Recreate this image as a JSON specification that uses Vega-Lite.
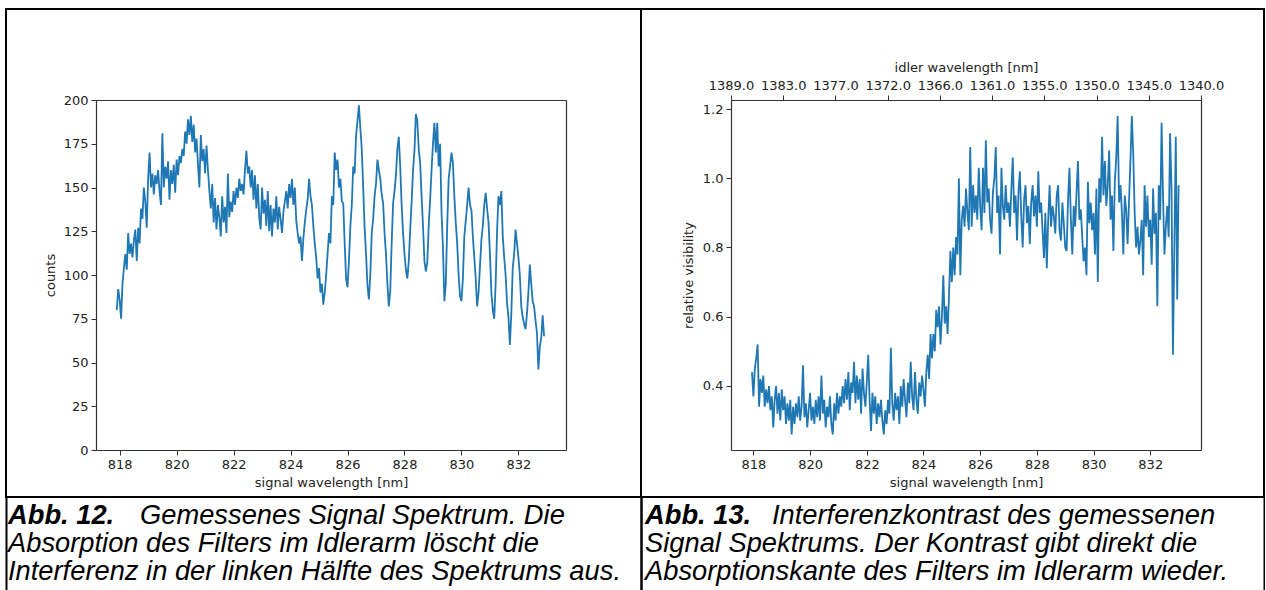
{
  "$schema": "https://vega.github.io/schema/vega-lite/v6.json",
  "background": "white",
  "padding": {"left": 5, "top": 8, "right": 0, "bottom": 0},
  "bounds": "flush",
  "columns": 2,
  "spacing": 0,
  "config": {
    "view": {"stroke": null},
    "concat": {"spacing": 0},
    "axis": {
      "domainColor": "#333", "domainWidth": 1.2, "tickColor": "#333", "tickWidth": 1, "tickSize": 5,
      "labelFont": "DejaVu Sans", "labelFontSize": 13, "labelColor": "#222",
      "titleFont": "DejaVu Sans", "titleFontSize": 13, "titleFontWeight": "normal", "titleColor": "#222",
      "labelPadding": 3, "grid": false, "labelFlush": false, "labelOverlap": false
    }
  },
  "datasets": {
    "sig": [
      {"wl":817.9,"c":80},{"wl":817.95,"c":92},{"wl":818,"c":86},{"wl":818.05,"c":75},{"wl":818.1,"c":95},{"wl":818.15,"c":104},{"wl":818.2,"c":112},{"wl":818.25,"c":103},{"wl":818.3,"c":124},{"wl":818.35,"c":112},{"wl":818.4,"c":118},{"wl":818.45,"c":110},{"wl":818.5,"c":120},{"wl":818.55,"c":126},{"wl":818.6,"c":108},{"wl":818.65,"c":127},{"wl":818.7,"c":118},{"wl":818.75,"c":138},{"wl":818.8,"c":132},{"wl":818.85,"c":150},{"wl":818.9,"c":142},{"wl":818.95,"c":127},{"wl":819,"c":155},
      {"wl":819.05,"c":170},{"wl":819.1,"c":150},{"wl":819.15,"c":158},{"wl":819.2,"c":146},{"wl":819.25,"c":157},{"wl":819.3,"c":152},{"wl":819.35,"c":160},{"wl":819.4,"c":148},{"wl":819.45,"c":140},{"wl":819.5,"c":181},{"wl":819.55,"c":150},{"wl":819.6,"c":162},{"wl":819.65,"c":155},{"wl":819.7,"c":165},{"wl":819.75,"c":143},{"wl":819.8,"c":160},{"wl":819.85,"c":152},{"wl":819.9,"c":163},{"wl":819.95,"c":147},{"wl":820,"c":166},{"wl":820.05,"c":157},{"wl":820.1,"c":168},
      {"wl":820.15,"c":164},{"wl":820.2,"c":172},{"wl":820.25,"c":168},{"wl":820.3,"c":182},{"wl":820.35,"c":175},{"wl":820.4,"c":189},{"wl":820.45,"c":180},{"wl":820.5,"c":191},{"wl":820.55,"c":176},{"wl":820.6,"c":186},{"wl":820.65,"c":170},{"wl":820.7,"c":178},{"wl":820.75,"c":163},{"wl":820.8,"c":150},{"wl":820.85,"c":180},{"wl":820.9,"c":165},{"wl":820.95,"c":172},{"wl":821,"c":158},{"wl":821.05,"c":174},{"wl":821.1,"c":160},
      {"wl":821.15,"c":148},{"wl":821.2,"c":138},{"wl":821.25,"c":152},{"wl":821.3,"c":130},{"wl":821.35,"c":144},{"wl":821.4,"c":126},{"wl":821.45,"c":140},{"wl":821.5,"c":133},{"wl":821.55,"c":122},{"wl":821.6,"c":145},{"wl":821.65,"c":130},{"wl":821.7,"c":139},{"wl":821.75,"c":124},{"wl":821.8,"c":158},{"wl":821.85,"c":133},{"wl":821.9,"c":142},{"wl":821.95,"c":136},{"wl":822,"c":148},{"wl":822.05,"c":140},{"wl":822.1,"c":150},{"wl":822.15,"c":144},{"wl":822.2,"c":155},{"wl":822.25,"c":148},{"wl":822.3,"c":152},{"wl":822.35,"c":146},
      {"wl":822.4,"c":160},{"wl":822.45,"c":171},{"wl":822.5,"c":158},{"wl":822.55,"c":162},{"wl":822.6,"c":150},{"wl":822.65,"c":160},{"wl":822.7,"c":143},{"wl":822.75,"c":157},{"wl":822.8,"c":138},{"wl":822.85,"c":152},{"wl":822.9,"c":133},{"wl":822.95,"c":126},{"wl":823,"c":150},{"wl":823.05,"c":135},{"wl":823.1,"c":143},{"wl":823.15,"c":128},{"wl":823.2,"c":148},{"wl":823.25,"c":125},{"wl":823.3,"c":140},{"wl":823.35,"c":122},{"wl":823.4,"c":138},{"wl":823.45,"c":130},{"wl":823.5,"c":145},{"wl":823.55,"c":126},{"wl":823.6,"c":139},{"wl":823.65,"c":132},{"wl":823.7,"c":124},{"wl":823.75,"c":136},
      {"wl":823.8,"c":142},{"wl":823.85,"c":148},{"wl":823.9,"c":138},{"wl":823.95,"c":152},{"wl":824,"c":144},{"wl":824.05,"c":155},{"wl":824.1,"c":140},{"wl":824.15,"c":150},{"wl":824.2,"c":131},{"wl":824.25,"c":124},{"wl":824.3,"c":118},{"wl":824.35,"c":122},{"wl":824.4,"c":108},{"wl":824.45,"c":121},{"wl":824.5,"c":130},{"wl":824.55,"c":137},{"wl":824.6,"c":143},{"wl":824.65,"c":155},{"wl":824.7,"c":145},{"wl":824.75,"c":140},{"wl":824.8,"c":128},{"wl":824.85,"c":118},{"wl":824.9,"c":110},{"wl":824.95,"c":98},{"wl":825,"c":104},{"wl":825.05,"c":90},{"wl":825.1,"c":95},{"wl":825.15,"c":83},{"wl":825.2,"c":90},{"wl":825.25,"c":100},{"wl":825.3,"c":112},{"wl":825.35,"c":124},{"wl":825.4,"c":118},
      {"wl":825.45,"c":145},{"wl":825.5,"c":140},{"wl":825.55,"c":170},{"wl":825.6,"c":160},{"wl":825.65,"c":166},{"wl":825.7,"c":150},{"wl":825.75,"c":155},{"wl":825.8,"c":142},{"wl":825.85,"c":141},{"wl":825.9,"c":118},{"wl":825.95,"c":98},{"wl":826,"c":93},{"wl":826.05,"c":108},{"wl":826.1,"c":128},{"wl":826.15,"c":140},{"wl":826.2,"c":162},{"wl":826.25,"c":158},{"wl":826.3,"c":180},{"wl":826.35,"c":188},{"wl":826.4,"c":197},{"wl":826.45,"c":184},{"wl":826.5,"c":172},{"wl":826.55,"c":150},{"wl":826.6,"c":127},{"wl":826.65,"c":112},{"wl":826.7,"c":94},{"wl":826.75,"c":86},{"wl":826.8,"c":100},{"wl":826.85,"c":124},{"wl":826.9,"c":132},{"wl":826.95,"c":145},
      {"wl":827,"c":152},{"wl":827.05,"c":166},{"wl":827.1,"c":160},{"wl":827.15,"c":155},{"wl":827.2,"c":146},{"wl":827.25,"c":141},{"wl":827.3,"c":124},{"wl":827.35,"c":112},{"wl":827.4,"c":95},{"wl":827.45,"c":82},{"wl":827.5,"c":91},{"wl":827.55,"c":118},{"wl":827.6,"c":141},{"wl":827.65,"c":148},{"wl":827.7,"c":157},{"wl":827.75,"c":172},{"wl":827.8,"c":179},{"wl":827.85,"c":162},{"wl":827.9,"c":140},{"wl":827.95,"c":124},
      {"wl":828,"c":112},{"wl":828.05,"c":103},{"wl":828.1,"c":98},{"wl":828.15,"c":108},{"wl":828.2,"c":126},{"wl":828.25,"c":141},{"wl":828.3,"c":160},{"wl":828.35,"c":171},{"wl":828.4,"c":192},{"wl":828.45,"c":188},{"wl":828.5,"c":172},{"wl":828.55,"c":164},{"wl":828.6,"c":145},{"wl":828.65,"c":128},{"wl":828.7,"c":108},{"wl":828.75,"c":102},{"wl":828.8,"c":107},{"wl":828.85,"c":128},{"wl":828.9,"c":143},{"wl":828.95,"c":160},
      {"wl":829,"c":175},{"wl":829.05,"c":187},{"wl":829.1,"c":170},{"wl":829.15,"c":187},{"wl":829.2,"c":162},{"wl":829.25,"c":175},{"wl":829.3,"c":136},{"wl":829.35,"c":116},{"wl":829.4,"c":85},{"wl":829.45,"c":95},{"wl":829.5,"c":128},{"wl":829.55,"c":155},{"wl":829.6,"c":162},{"wl":829.65,"c":170},{"wl":829.7,"c":164},{"wl":829.75,"c":145},{"wl":829.8,"c":130},{"wl":829.85,"c":118},{"wl":829.9,"c":100},{"wl":829.95,"c":88},
      {"wl":830,"c":85},{"wl":830.05,"c":98},{"wl":830.1,"c":122},{"wl":830.15,"c":131},{"wl":830.2,"c":140},{"wl":830.25,"c":150},{"wl":830.3,"c":140},{"wl":830.35,"c":137},{"wl":830.4,"c":122},{"wl":830.45,"c":110},{"wl":830.5,"c":98},{"wl":830.55,"c":82},{"wl":830.6,"c":90},{"wl":830.65,"c":105},{"wl":830.7,"c":120},{"wl":830.75,"c":128},{"wl":830.8,"c":140},{"wl":830.85,"c":147},{"wl":830.9,"c":138},{"wl":830.95,"c":130},
      {"wl":831,"c":112},{"wl":831.05,"c":90},{"wl":831.1,"c":80},{"wl":831.15,"c":75},{"wl":831.2,"c":95},{"wl":831.25,"c":125},{"wl":831.3,"c":145},{"wl":831.35,"c":140},{"wl":831.4,"c":148},{"wl":831.45,"c":122},{"wl":831.5,"c":110},{"wl":831.55,"c":100},{"wl":831.6,"c":84},{"wl":831.65,"c":76},{"wl":831.7,"c":60},{"wl":831.75,"c":78},{"wl":831.8,"c":104},{"wl":831.85,"c":112},{"wl":831.9,"c":126},{"wl":831.95,"c":118},
      {"wl":832,"c":110},{"wl":832.05,"c":100},{"wl":832.1,"c":82},{"wl":832.15,"c":76},{"wl":832.2,"c":72},{"wl":832.25,"c":69},{"wl":832.3,"c":78},{"wl":832.35,"c":90},{"wl":832.4,"c":106},{"wl":832.45,"c":95},{"wl":832.5,"c":85},{"wl":832.55,"c":82},{"wl":832.6,"c":74},{"wl":832.65,"c":67},{"wl":832.7,"c":46},{"wl":832.75,"c":59},{"wl":832.8,"c":64},{"wl":832.85,"c":77},{"wl":832.9,"c":65}
    ],
    "vis": [
      {"wl":817.95,"v":0.44},{"wl":818,"v":0.37},{"wl":818.05,"v":0.45},{"wl":818.1,"v":0.48},{"wl":818.15,"v":0.52},{"wl":818.2,"v":0.34},{"wl":818.25,"v":0.42},{"wl":818.3,"v":0.38},{"wl":818.35,"v":0.43},{"wl":818.4,"v":0.34},{"wl":818.45,"v":0.39},{"wl":818.5,"v":0.35},{"wl":818.55,"v":0.4},{"wl":818.6,"v":0.33},{"wl":818.65,"v":0.37},{"wl":818.7,"v":0.28},{"wl":818.75,"v":0.36},{"wl":818.8,"v":0.4},{"wl":818.85,"v":0.32},{"wl":818.9,"v":0.38},{"wl":818.95,"v":0.3},
      {"wl":819,"v":0.39},{"wl":819.05,"v":0.33},{"wl":819.1,"v":0.37},{"wl":819.15,"v":0.29},{"wl":819.2,"v":0.35},{"wl":819.25,"v":0.3},{"wl":819.3,"v":0.36},{"wl":819.35,"v":0.26},{"wl":819.4,"v":0.34},{"wl":819.45,"v":0.29},{"wl":819.5,"v":0.35},{"wl":819.55,"v":0.31},{"wl":819.6,"v":0.37},{"wl":819.65,"v":0.3},{"wl":819.7,"v":0.34},{"wl":819.75,"v":0.46},{"wl":819.8,"v":0.31},{"wl":819.85,"v":0.35},{"wl":819.9,"v":0.28},{"wl":819.95,"v":0.33},
      {"wl":820,"v":0.38},{"wl":820.05,"v":0.3},{"wl":820.1,"v":0.34},{"wl":820.15,"v":0.29},{"wl":820.2,"v":0.36},{"wl":820.25,"v":0.31},{"wl":820.3,"v":0.37},{"wl":820.35,"v":0.3},{"wl":820.4,"v":0.43},{"wl":820.45,"v":0.32},{"wl":820.5,"v":0.36},{"wl":820.55,"v":0.28},{"wl":820.6,"v":0.34},{"wl":820.65,"v":0.31},{"wl":820.7,"v":0.37},{"wl":820.75,"v":0.29},{"wl":820.8,"v":0.26},{"wl":820.85,"v":0.35},{"wl":820.9,"v":0.3},{"wl":820.95,"v":0.38},
      {"wl":821,"v":0.32},{"wl":821.05,"v":0.37},{"wl":821.1,"v":0.34},{"wl":821.15,"v":0.4},{"wl":821.2,"v":0.35},{"wl":821.25,"v":0.42},{"wl":821.3,"v":0.36},{"wl":821.35,"v":0.44},{"wl":821.4,"v":0.33},{"wl":821.45,"v":0.41},{"wl":821.5,"v":0.38},{"wl":821.55,"v":0.47},{"wl":821.6,"v":0.35},{"wl":821.65,"v":0.43},{"wl":821.7,"v":0.36},{"wl":821.75,"v":0.42},{"wl":821.8,"v":0.32},{"wl":821.85,"v":0.45},{"wl":821.9,"v":0.38},{"wl":821.95,"v":0.34},
      {"wl":822,"v":0.41},{"wl":822.05,"v":0.49},{"wl":822.1,"v":0.36},{"wl":822.15,"v":0.27},{"wl":822.2,"v":0.38},{"wl":822.25,"v":0.32},{"wl":822.3,"v":0.37},{"wl":822.35,"v":0.29},{"wl":822.4,"v":0.35},{"wl":822.45,"v":0.31},{"wl":822.5,"v":0.36},{"wl":822.55,"v":0.3},{"wl":822.6,"v":0.26},{"wl":822.65,"v":0.33},{"wl":822.7,"v":0.29},{"wl":822.75,"v":0.36},{"wl":822.8,"v":0.32},{"wl":822.85,"v":0.51},{"wl":822.9,"v":0.35},{"wl":822.95,"v":0.3},
      {"wl":823,"v":0.38},{"wl":823.05,"v":0.33},{"wl":823.1,"v":0.37},{"wl":823.15,"v":0.29},{"wl":823.2,"v":0.4},{"wl":823.25,"v":0.34},{"wl":823.3,"v":0.42},{"wl":823.35,"v":0.36},{"wl":823.4,"v":0.31},{"wl":823.45,"v":0.41},{"wl":823.5,"v":0.35},{"wl":823.55,"v":0.47},{"wl":823.6,"v":0.37},{"wl":823.65,"v":0.33},{"wl":823.7,"v":0.44},{"wl":823.75,"v":0.36},{"wl":823.8,"v":0.32},{"wl":823.85,"v":0.41},{"wl":823.9,"v":0.37},{"wl":823.95,"v":0.43},
      {"wl":824,"v":0.39},{"wl":824.05,"v":0.34},{"wl":824.1,"v":0.44},{"wl":824.15,"v":0.49},{"wl":824.2,"v":0.42},{"wl":824.25,"v":0.55},{"wl":824.3,"v":0.48},{"wl":824.35,"v":0.55},{"wl":824.4,"v":0.5},{"wl":824.45,"v":0.62},{"wl":824.5,"v":0.57},{"wl":824.55,"v":0.63},{"wl":824.6,"v":0.52},{"wl":824.65,"v":0.6},{"wl":824.7,"v":0.72},{"wl":824.75,"v":0.58},{"wl":824.8,"v":0.63},{"wl":824.85,"v":0.55},{"wl":824.9,"v":0.66},{"wl":824.95,"v":0.79},
      {"wl":825,"v":0.7},{"wl":825.05,"v":0.8},{"wl":825.1,"v":0.72},{"wl":825.15,"v":0.83},{"wl":825.2,"v":0.78},{"wl":825.25,"v":1.0},{"wl":825.3,"v":0.72},{"wl":825.35,"v":0.88},{"wl":825.4,"v":0.92},{"wl":825.45,"v":0.86},{"wl":825.5,"v":0.97},{"wl":825.55,"v":0.9},{"wl":825.6,"v":0.85},{"wl":825.65,"v":1.09},{"wl":825.7,"v":0.86},{"wl":825.75,"v":0.98},{"wl":825.8,"v":0.9},{"wl":825.85,"v":0.95},{"wl":825.9,"v":0.88},{"wl":825.95,"v":1.03},
      {"wl":826,"v":0.92},{"wl":826.05,"v":0.85},{"wl":826.1,"v":1.03},{"wl":826.15,"v":0.9},{"wl":826.2,"v":1.11},{"wl":826.25,"v":0.93},{"wl":826.3,"v":0.97},{"wl":826.35,"v":0.88},{"wl":826.4,"v":0.84},{"wl":826.45,"v":0.96},{"wl":826.5,"v":1.0},{"wl":826.55,"v":1.09},{"wl":826.6,"v":0.9},{"wl":826.65,"v":0.95},{"wl":826.7,"v":0.78},{"wl":826.75,"v":1.03},{"wl":826.8,"v":0.92},{"wl":826.85,"v":0.88},{"wl":826.9,"v":0.98},{"wl":826.95,"v":0.9},
      {"wl":827,"v":0.93},{"wl":827.05,"v":0.86},{"wl":827.1,"v":0.97},{"wl":827.15,"v":1.06},{"wl":827.2,"v":0.9},{"wl":827.25,"v":0.95},{"wl":827.3,"v":0.82},{"wl":827.35,"v":0.96},{"wl":827.4,"v":1.02},{"wl":827.45,"v":0.89},{"wl":827.5,"v":0.8},{"wl":827.55,"v":0.94},{"wl":827.6,"v":0.98},{"wl":827.65,"v":0.87},{"wl":827.7,"v":0.92},{"wl":827.75,"v":0.81},{"wl":827.8,"v":0.93},{"wl":827.85,"v":0.98},{"wl":827.9,"v":0.89},{"wl":827.95,"v":0.95},
      {"wl":828,"v":0.86},{"wl":828.05,"v":1.02},{"wl":828.1,"v":0.9},{"wl":828.15,"v":0.93},{"wl":828.2,"v":0.85},{"wl":828.25,"v":0.77},{"wl":828.3,"v":0.9},{"wl":828.35,"v":0.74},{"wl":828.4,"v":0.88},{"wl":828.45,"v":0.98},{"wl":828.5,"v":0.86},{"wl":828.55,"v":0.92},{"wl":828.6,"v":0.89},{"wl":828.65,"v":0.84},{"wl":828.7,"v":0.95},{"wl":828.75,"v":0.98},{"wl":828.8,"v":0.85},{"wl":828.85,"v":0.82},{"wl":828.9,"v":0.93},{"wl":828.95,"v":0.87},
      {"wl":829,"v":0.8},{"wl":829.05,"v":0.79},{"wl":829.1,"v":0.94},{"wl":829.15,"v":1.03},{"wl":829.2,"v":0.88},{"wl":829.25,"v":0.78},{"wl":829.3,"v":0.92},{"wl":829.35,"v":0.86},{"wl":829.4,"v":0.96},{"wl":829.45,"v":1.05},{"wl":829.5,"v":0.88},{"wl":829.55,"v":0.91},{"wl":829.6,"v":0.83},{"wl":829.65,"v":0.76},{"wl":829.7,"v":0.8},{"wl":829.75,"v":0.72},{"wl":829.8,"v":0.99},{"wl":829.85,"v":0.87},{"wl":829.9,"v":0.93},{"wl":829.95,"v":0.85},
      {"wl":830,"v":0.9},{"wl":830.05,"v":0.78},{"wl":830.1,"v":0.97},{"wl":830.15,"v":0.7},{"wl":830.2,"v":1.0},{"wl":830.25,"v":0.93},{"wl":830.3,"v":1.12},{"wl":830.35,"v":0.95},{"wl":830.4,"v":1.05},{"wl":830.45,"v":0.92},{"wl":830.5,"v":0.98},{"wl":830.55,"v":1.08},{"wl":830.6,"v":0.88},{"wl":830.65,"v":0.95},{"wl":830.7,"v":0.79},{"wl":830.75,"v":0.99},{"wl":830.8,"v":1.06},{"wl":830.85,"v":1.18},{"wl":830.9,"v":0.93},{"wl":830.95,"v":0.98},
      {"wl":831,"v":0.9},{"wl":831.05,"v":0.78},{"wl":831.1,"v":0.95},{"wl":831.15,"v":0.91},{"wl":831.2,"v":0.81},{"wl":831.25,"v":0.93},{"wl":831.3,"v":1.05},{"wl":831.35,"v":1.18},{"wl":831.4,"v":1.07},{"wl":831.45,"v":0.9},{"wl":831.5,"v":0.8},{"wl":831.55,"v":0.86},{"wl":831.6,"v":0.78},{"wl":831.65,"v":0.82},{"wl":831.7,"v":0.88},{"wl":831.75,"v":0.72},{"wl":831.8,"v":0.98},{"wl":831.85,"v":0.86},{"wl":831.9,"v":0.95},{"wl":831.95,"v":0.83},
      {"wl":832,"v":0.88},{"wl":832.05,"v":0.75},{"wl":832.1,"v":0.97},{"wl":832.15,"v":0.84},{"wl":832.2,"v":0.9},{"wl":832.25,"v":0.63},{"wl":832.3,"v":0.98},{"wl":832.35,"v":0.88},{"wl":832.4,"v":1.16},{"wl":832.45,"v":0.95},{"wl":832.5,"v":0.78},{"wl":832.55,"v":0.86},{"wl":832.6,"v":0.92},{"wl":832.65,"v":0.83},{"wl":832.7,"v":1.13},{"wl":832.75,"v":0.97},{"wl":832.8,"v":0.49},{"wl":832.85,"v":0.8},{"wl":832.9,"v":1.12},{"wl":832.95,"v":0.65},{"wl":833,"v":0.98}
    ],
    "cap12": [
      {"line": 1, "part": "label", "text": "Abb. 12."},
      {"line": 1, "part": "lead", "text": "Gemessenes Signal Spektrum. Die"},
      {"line": 2, "part": "body", "text": "Absorption des Filters im Idlerarm löscht die"},
      {"line": 3, "part": "body", "text": "Interferenz in der linken Hälfte des Spektrums aus."}
    ],
    "cap13": [
      {"line": 1, "part": "label", "text": "Abb. 13."},
      {"line": 1, "part": "lead", "text": "Interferenzkontrast des gemessenen"},
      {"line": 2, "part": "body", "text": "Signal Spektrums. Der Kontrast gibt direkt die"},
      {"line": 3, "part": "body", "text": "Absorptionskante des Filters im Idlerarm wieder."}
    ]
  },
  "concat": [
    {
      "width": 635, "height": 488,
      "view": {"stroke": "black", "strokeWidth": 2},
      "data": {"name": "sig"},
      "layer": [
        {
          "mark": {"type": "line", "color": "#1f77b4", "strokeWidth": 1.8},
          "encoding": {
            "x": {"field": "wl", "type": "quantitative",
                  "scale": {"domain": [817.17, 833.67], "range": [90, 560], "nice": false, "zero": false},
                  "axis": {"orient": "bottom", "offset": -47, "values": [818, 820, 822, 824, 826, 828, 830, 832], "format": "d", "title": "signal wavelength [nm]", "titlePadding": 5}},
            "y": {"field": "c", "type": "quantitative",
                  "scale": {"domain": [0, 200], "range": [441, 91], "nice": false, "zero": false},
                  "axis": {"orient": "left", "offset": -90, "values": [0, 25, 50, 75, 100, 125, 150, 175, 200], "format": "d", "title": "counts", "titlePadding": 6}}
          }
        },
        {
          "mark": {"type": "point", "opacity": 0, "size": 1},
          "encoding": {
            "x": {"field": "wl", "type": "quantitative",
                  "scale": {"domain": [817.17, 833.67], "range": [90, 560], "nice": false, "zero": false},
                  "axis": {"orient": "top", "offset": -91, "values": [], "ticks": false, "labels": false, "title": null}},
            "y": {"field": "c", "type": "quantitative",
                  "scale": {"domain": [0, 200], "range": [441, 91], "nice": false, "zero": false},
                  "axis": {"orient": "right", "offset": -75, "values": [], "ticks": false, "labels": false, "title": null}}
          }
        }
      ],
      "resolve": {"axis": {"x": "independent", "y": "independent"}}
    },
    {
      "width": 623, "height": 488,
      "view": {"stroke": "black", "strokeWidth": 2},
      "data": {"name": "vis"},
      "layer": [
        {
          "mark": {"type": "line", "color": "#1f77b4", "strokeWidth": 1.8},
          "encoding": {
            "x": {"field": "wl", "type": "quantitative",
                  "scale": {"domain": [817.21, 833.79], "range": [90, 560], "nice": false, "zero": false},
                  "axis": {"orient": "bottom", "offset": -47, "values": [818, 820, 822, 824, 826, 828, 830, 832], "format": "d", "title": "signal wavelength [nm]", "titlePadding": 5}},
            "y": {"field": "v", "type": "quantitative",
                  "scale": {"domain": [0.215, 1.226], "range": [441, 91], "nice": false, "zero": false},
                  "axis": {"orient": "left", "offset": -90, "values": [0.4, 0.6, 0.8, 1.0, 1.2], "format": ".1f", "title": "relative visibility", "titlePadding": 7}}
          }
        },
        {
          "mark": {"type": "point", "opacity": 0, "size": 1},
          "encoding": {
            "x": {"field": "wl", "type": "quantitative",
                  "scale": {"domain": [817.21, 833.79], "range": [90, 560], "nice": false, "zero": false},
                  "axis": {"orient": "top", "offset": -91, "values": [817.2101, 819.0522, 820.8944, 822.7367, 824.5789, 826.4211, 828.2633, 830.1056, 831.9478, 833.7899],
                           "labelExpr": "['1389.0','1383.0','1377.0','1372.0','1366.0','1361.0','1355.0','1350.0','1345.0','1340.0'][round((datum.value-817.21)/1.84222)]",
                           "title": "idler wavelength [nm]", "titlePadding": 5}},
            "y": {"field": "v", "type": "quantitative",
                  "scale": {"domain": [0.215, 1.226], "range": [441, 91], "nice": false, "zero": false},
                  "axis": {"orient": "right", "offset": -63, "values": [], "ticks": false, "labels": false, "title": null}}
          }
        }
      ],
      "resolve": {"axis": {"x": "independent", "y": "independent"}}
    },
    {
      "width": 635, "height": 93,
      "data": {"name": "cap12"},
      "encoding": {
        "x": {"datum": 0, "type": "quantitative", "scale": {"domain": [0, 1], "nice": false, "zero": false}, "axis": null},
        "y": {"field": "line", "type": "quantitative", "scale": {"domain": [0.3214, 3.6429], "reverse": true, "nice": false, "zero": false}},
        "text": {"field": "text"}
      },
      "layer": [
        {
          "transform": [{"filter": "datum.part == 'label'"}],
          "mark": {"type": "text", "align": "left", "baseline": "middle", "font": "Liberation Sans", "fontSize": 27.3, "fontStyle": "italic", "fontWeight": "bold", "color": "black", "dx": 2},
          "encoding": {
            "y": {"field": "line", "type": "quantitative",
                  "axis": {"orient": "left", "values": [], "ticks": false, "labels": false, "title": null, "domainColor": "black", "domainWidth": 2}}
          }
        },
        {
          "transform": [{"filter": "datum.part == 'lead'"}],
          "mark": {"type": "text", "align": "left", "baseline": "middle", "font": "Liberation Sans", "fontSize": 27.3, "fontStyle": "italic", "color": "black", "dx": 134},
          "encoding": {
            "y": {"field": "line", "type": "quantitative",
                  "axis": {"orient": "right", "values": [], "ticks": false, "labels": false, "title": null, "domainColor": "black", "domainWidth": 2}}
          }
        },
        {
          "transform": [{"filter": "datum.part == 'body'"}],
          "mark": {"type": "text", "align": "left", "baseline": "middle", "font": "Liberation Sans", "fontSize": 27.3, "fontStyle": "italic", "color": "black", "dx": 2},
          "encoding": {
            "y": {"field": "line", "type": "quantitative", "axis": null}
          }
        }
      ],
      "resolve": {"axis": {"y": "independent"}}
    },
    {
      "width": 623, "height": 93,
      "data": {"name": "cap13"},
      "encoding": {
        "x": {"datum": 0, "type": "quantitative", "scale": {"domain": [0, 1], "nice": false, "zero": false}, "axis": null},
        "y": {"field": "line", "type": "quantitative", "scale": {"domain": [0.3214, 3.6429], "reverse": true, "nice": false, "zero": false}},
        "text": {"field": "text"}
      },
      "layer": [
        {
          "transform": [{"filter": "datum.part == 'label'"}],
          "mark": {"type": "text", "align": "left", "baseline": "middle", "font": "Liberation Sans", "fontSize": 27.3, "fontStyle": "italic", "fontWeight": "bold", "color": "black", "dx": 4},
          "encoding": {
            "y": {"field": "line", "type": "quantitative",
                  "axis": {"orient": "left", "values": [], "ticks": false, "labels": false, "title": null, "domainColor": "black", "domainWidth": 2}}
          }
        },
        {
          "transform": [{"filter": "datum.part == 'lead'"}],
          "mark": {"type": "text", "align": "left", "baseline": "middle", "font": "Liberation Sans", "fontSize": 27.3, "fontStyle": "italic", "color": "black", "dx": 131},
          "encoding": {
            "y": {"field": "line", "type": "quantitative",
                  "axis": {"orient": "right", "values": [], "ticks": false, "labels": false, "title": null, "domainColor": "black", "domainWidth": 2}}
          }
        },
        {
          "transform": [{"filter": "datum.part == 'body'"}],
          "mark": {"type": "text", "align": "left", "baseline": "middle", "font": "Liberation Sans", "fontSize": 27.3, "fontStyle": "italic", "color": "black", "dx": 4},
          "encoding": {
            "y": {"field": "line", "type": "quantitative", "axis": null}
          }
        }
      ],
      "resolve": {"axis": {"y": "independent"}}
    }
  ]
}
